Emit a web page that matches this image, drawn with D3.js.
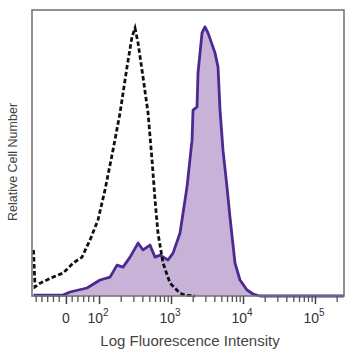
<!DOCTYPE html>
<html><head><meta charset="utf-8">
<script src="https://cdn.jsdelivr.net/npm/d3@7"></script>
<style>body{margin:0;background:#fff}svg{display:block}text{font-family:"Liberation Sans",Arial,sans-serif}</style>
</head><body>
<svg id="c" width="358" height="358"></svg>
<script>
// log10 fluorescence intensity (display units) and relative counts (0-100)
const isoLog   = [1.09,1.111,1.181,1.361,1.5,1.639,1.764,1.875,1.986,2.083,2.194,2.292,2.389,2.458,2.5,2.542,2.611,2.681,2.736,2.778,2.819,2.889,2.986,3.125,3.194,3.333];
const isoCount = [16.1,3.2,4.5,6.6,8.0,11.5,13.6,19.6,26.6,37.1,51.0,64.0,80.1,90.6,93.7,88.5,76.6,64.0,47.6,33.6,22.0,11.5,4.5,1.0,0.3,0.0];
const stainLog   = [1.09,1.5,1.597,1.833,2.014,2.153,2.25,2.333,2.431,2.542,2.611,2.708,2.778,2.847,2.958,3.028,3.125,3.222,3.292,3.306,3.361,3.375,3.431,3.472,3.514,3.611,3.653,3.681,3.722,3.778,3.819,3.889,3.958,4.056,4.139,4.236,5.40];
const stainCount = [0.3,0.3,1.4,2.8,5.6,6.6,10.8,10.1,13.6,18.5,16.1,17.8,13.6,14.3,12.6,15.0,22.0,38.1,54.5,65.0,66.1,78.0,92.0,94.1,92.0,85.0,80.1,65.0,51.0,38.1,27.6,11.5,5.6,2.1,0.7,0.0,0.0];
const majorTicks = [1.54, 2, 3, 4, 5];
const majorLabels = [["0",""],["10","2"],["10","3"],["10","4"],["10","5"]];
const minorTicks = [1.12,1.2,1.28,1.36,1.44,1.62,1.7,1.78,1.85,1.92,2.301,2.477,2.602,2.699,2.778,2.845,2.903,2.954,3.301,3.477,3.602,3.699,3.778,3.845,3.903,3.954,4.301,4.477,4.602,4.699,4.778,4.845,4.903,4.954,5.301];
const xTitle = "Log Fluorescence Intensity";
const yTitle = "Relative Cell Number";

const svg = d3.select("#c");
const L=32, R=344, T=10, B=296;
const x = d3.scaleLinear().domain([1.069, 5.403]).range([L, R]);
const y = d3.scaleLinear().domain([0, 100]).range([B, T]);

const stain = stainLog.map((v,i)=>[v, stainCount[i]]);
const iso = isoLog.map((v,i)=>[v, isoCount[i]]);

svg.append("path").datum(stain)
  .attr("d", d3.area().x(d=>x(d[0])).y0(y(0)).y1(d=>y(d[1])))
  .attr("fill", "#c8b2d8");
svg.append("path").datum(stain)
  .attr("d", d3.line().x(d=>x(d[0])).y(d=>y(d[1])))
  .attr("fill", "none").attr("stroke", "#4b2b91").attr("stroke-width", 2.8).attr("stroke-linejoin","round");
svg.append("path").datum(iso)
  .attr("d", d3.line().x(d=>x(d[0])).y(d=>y(d[1])))
  .attr("fill", "none").attr("stroke", "#111").attr("stroke-width", 2.8)
  .attr("stroke-dasharray", "4.5,2.5");

// frame
svg.append("rect").attr("x", L).attr("y", T).attr("width", R-L).attr("height", B-T)
  .attr("fill", "none").attr("stroke", "#777").attr("stroke-width", 1.6);

// ticks
const tg = svg.append("g").attr("transform", `translate(0,${B})`);
tg.call(d3.axisBottom(x).tickValues(minorTicks).tickSize(6).tickFormat(""))
  .call(g=>g.select(".domain").remove())
  .call(g=>g.selectAll("line").attr("stroke","#555").attr("stroke-width",1.3));
const tg2 = svg.append("g").attr("transform", `translate(0,${B})`);
tg2.call(d3.axisBottom(x).tickValues(majorTicks).tickSize(8).tickFormat(""))
  .call(g=>g.select(".domain").remove())
  .call(g=>g.selectAll("line").attr("stroke","#444").attr("stroke-width",1.5));

// tick labels
majorTicks.forEach((v,i)=>{
  const t = svg.append("text").attr("x", x(v) + (i===0?0:-1)).attr("y", 323)
    .attr("text-anchor","middle").attr("font-size", 14).attr("fill", "#333");
  t.append("tspan").text(majorLabels[i][0]);
  if (majorLabels[i][1]) t.append("tspan").attr("dy", -7).attr("font-size", 10).text(majorLabels[i][1]);
});

svg.append("text").attr("x", 190).attr("y", 346).attr("text-anchor","middle")
  .attr("font-size", 15).attr("fill", "#444").text(xTitle);
svg.append("text").attr("transform", "translate(17,162) rotate(-90)").attr("text-anchor","middle")
  .attr("font-size", 12.5).attr("fill", "#444").text(yTitle);
</script>
</body></html>
